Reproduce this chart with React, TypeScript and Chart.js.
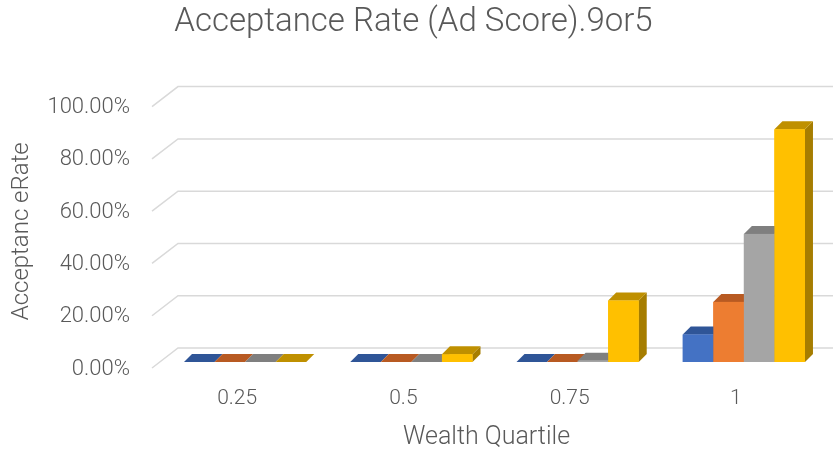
import { useEffect, useRef } from "react";
import { Chart, registerables } from "chart.js";

Chart.register(...registerables);

const categories = ["0.25", "0.5", "0.75", "1"];
const seriesNames = ["Series1", "Series2", "Series3", "Series4"];
const series1 = [0, 0, 0, 10.5];
const series2 = [0, 0, 0, 23];
const series3 = [0, 0, 0.5, 49];
const series4 = [0, 3, 23.5, 89];
const yTicks = [0, 20, 40, 60, 80, 100];
const xTitle = "Wealth Quartile";

const frontColors = ["#4472C4", "#ED7D31", "#A5A5A5", "#FFC000"];
const topColors = ["#2F5597", "#B85A22", "#7F7F7F", "#BF9000"];
const sideColors = ["#2B4F8C", "#A9531F", "#767676", "#A67D00"];

const FONT = "Roboto, 'Open Sans', sans-serif";
const TEXT = "#595959";
const DX = 8;
const DY = 8;

const wallPlugin = {
  id: "wall3d",
  beforeDatasetsDraw(chart: any) {
    const ctx = chart.ctx;
    const y = chart.scales.y;
    const area = chart.chartArea;
    ctx.save();
    ctx.strokeStyle = "#d9d9d9";
    ctx.lineWidth = 1.5;
    for (const v of yTicks) {
      const p = y.getPixelForValue(v);
      ctx.beginPath();
      ctx.moveTo(area.left - 10, p + 6);
      ctx.lineTo(area.left + 16, p - 14);
      ctx.lineTo(area.right + 6, p - 14);
      ctx.stroke();
    }
    ctx.restore();
  },
  afterDatasetsDraw(chart: any) {
    const ctx = chart.ctx;
    const n = chart.data.labels.length;
    const m = chart.data.datasets.length;
    ctx.save();
    for (let c = 0; c < n; c++) {
      for (let d = 0; d < m; d++) {
        const el = chart.getDatasetMeta(d).data[c];
        const { x, y, base, width } = el.getProps(["x", "y", "base", "width"], true);
        const l = x - width / 2;
        const r = x + width / 2;
        ctx.fillStyle = sideColors[d];
        ctx.beginPath();
        ctx.moveTo(r, y);
        ctx.lineTo(r + DX, y - DY);
        ctx.lineTo(r + DX, base - DY);
        ctx.lineTo(r, base);
        ctx.closePath();
        ctx.fill();
        ctx.fillStyle = topColors[d];
        ctx.beginPath();
        ctx.moveTo(l, y);
        ctx.lineTo(l + DX, y - DY);
        ctx.lineTo(r + DX, y - DY);
        ctx.lineTo(r, y);
        ctx.closePath();
        ctx.fill();
        ctx.fillStyle = frontColors[d];
        ctx.fillRect(l, y, width, base - y);
      }
    }
    ctx.restore();
  },
  afterDraw(chart: any) {
    const ctx = chart.ctx;
    const area = chart.chartArea;
    const xs = chart.scales.x;
    ctx.save();
    ctx.fillStyle = TEXT;
    ctx.font = `300 25px ${FONT}`;
    ctx.textAlign = "center";
    ctx.textBaseline = "middle";
    ctx.fillText(xTitle, (area.left + area.right) / 2 - 8, xs.bottom - 16);
    ctx.restore();
  },
};

export default function App() {
  const ref = useRef<HTMLCanvasElement | null>(null);
  useEffect(() => {
    document.body.style.margin = "0";
    const canvas = ref.current;
    if (!canvas) return;
    const data = [series1, series2, series3, series4];
    const chart = new Chart(canvas, {
      type: "bar",
      data: {
        labels: categories,
        datasets: data.map((vals, i) => ({
          label: seriesNames[i],
          data: vals,
          backgroundColor: frontColors[i],
          borderWidth: 0,
          categoryPercentage: 0.735,
          barPercentage: 1,
        })),
      },
      options: {
        responsive: false,
        animation: false,
        layout: { padding: { top: 0, left: 0, right: 10, bottom: 0 } },
        plugins: {
          legend: { display: false },
          tooltip: { enabled: false },
          title: {
            display: true,
            text: "Acceptance Rate (Ad Score).9or5",
            color: TEXT,
            font: { family: FONT, size: 33, weight: "300" as any },
            padding: { top: 3, bottom: 58 },
          },
        },
        scales: {
          x: {
            grid: { display: false, drawTicks: false },
            border: { display: false },
            ticks: {
              color: TEXT,
              font: { family: FONT, size: 21, weight: "300" as any },
              padding: 24,
              labelOffset: -8,
            },
            title: { display: false },
            afterFit(s: any) {
              s.height = 92;
            },
          },
          y: {
            min: 0,
            max: 100,
            grid: { display: false, drawTicks: false },
            border: { display: false },
            ticks: {
              stepSize: 20,
              color: TEXT,
              font: { family: FONT, size: 22, weight: "300" as any },
              padding: 32,
              labelOffset: 7,
              callback: (v: any) => Number(v).toFixed(2) + "%",
            },
            title: {
              display: true,
              text: "Acceptanc eRate",
              color: TEXT,
              font: { family: FONT, size: 24, weight: "300" as any },
              padding: { top: 8, bottom: 0 },
            },
            afterFit(s: any) {
              s.width = 162;
            },
          },
        },
      },
      plugins: [wallPlugin],
    });
    return () => chart.destroy();
  }, []);
  return <canvas ref={ref} width={837} height={454} style={{ display: "block" }} />;
}
